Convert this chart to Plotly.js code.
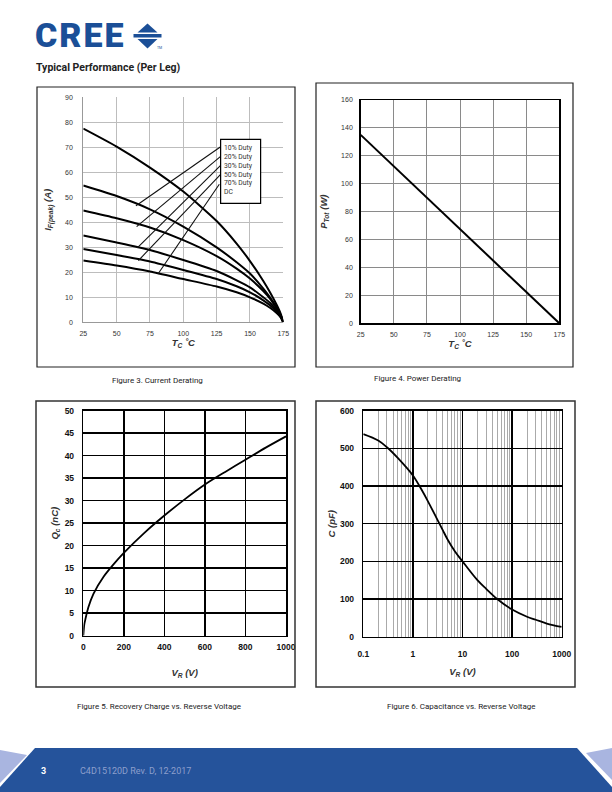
<!DOCTYPE html>
<html><head><meta charset="utf-8">
<script src="https://cdn.plot.ly/plotly-3.0.1.min.js"></script>
<style>
html,body{margin:0;padding:0;background:#fff;}
#wrap{position:relative;width:612px;height:792px;overflow:hidden;background:#fff;}
#chart{position:absolute;left:0;top:0;width:612px;height:792px;}
.ov{position:absolute;pointer-events:none;z-index:5;white-space:nowrap;}
</style></head>
<body>
<div id="wrap">
<div id="chart"></div>
<div class="ov" style="left:35px;top:15px;font-family:Roboto,'Liberation Sans',Arial;font-weight:900;font-size:34px;color:#1b4f97;letter-spacing:2px;">CREE</div>
<svg class="ov" style="left:0;top:0" width="612" height="60">
  <polygon points="147.5,23.5 137.5,32.5 157.5,32.5" fill="#1b4f97"/>
  <rect x="133.5" y="34" width="28" height="3.5" fill="#1b4f97"/>
  <polygon points="137.5,39 157.5,39 147.5,48.5" fill="#1b4f97"/>
  <text x="157" y="49" font-size="3.5" fill="#1b4f97" font-family="Roboto">TM</text>
</svg>
<div class="ov" style="left:36px;top:61px;font-family:Roboto,'Liberation Sans',Arial;font-weight:bold;font-size:10.5px;color:#222;">Typical Performance (Per Leg)</div>
<svg class="ov" style="left:0;top:740px" width="612" height="52">
  <polygon points="0,10 27,15 0,43" fill="#a9b5e0"/>
  <polygon points="612,8 586,13 612,40" fill="#a9b5e0"/>
  <polygon points="35,8 577,8 612,47 612,52 0,52 0,47" fill="#25539b"/>
</svg>
<div class="ov" style="left:41px;top:766px;font-family:Roboto,'Liberation Sans',Arial;font-weight:bold;font-size:9px;color:#fff;">3</div>
<div class="ov" style="left:80px;top:766px;font-family:'Liberation Sans Narrow',Roboto,'Liberation Sans';font-size:9px;color:#8d9fcc;">C4D15120D Rev. D, 12-2017</div>
</div>
<script>
// ---------- Figure 3: Current Derating ----------
const derateTemp = [25, 50, 75, 100, 125, 140, 150, 160, 165, 170, 173, 175];
const duty10 = [77.5, 70.3, 61.9, 52.3, 40.5, 31.5, 24.5, 16.5, 12.0, 7.0, 3.5, 0];
const duty20 = [54.7, 50.5, 45.2, 38.3, 30.0, 24.0, 19.5, 13.5, 10.0, 6.0, 3.0, 0];
const duty30 = [44.7, 41.6, 37.9, 32.9, 26.5, 21.5, 17.5, 12.5, 9.5, 5.5, 2.8, 0];
const duty50 = [34.7, 31.9, 28.9, 24.9, 20.5, 16.8, 14.0, 10.0, 7.8, 4.8, 2.5, 0];
const duty70 = [29.3, 26.9, 24.3, 20.9, 17.3, 14.4, 12.0, 8.8, 6.8, 4.3, 2.2, 0];
const dutyDC = [24.7, 22.7, 20.3, 17.3, 14.3, 12.0, 10.0, 7.5, 5.8, 3.7, 2.0, 0];
const dutyLabels = ['10% Duty', '20% Duty', '30% Duty', '50% Duty', '70% Duty', 'DC'];
const leaderStartT = [64.5, 65.0, 65.5, 66.3, 81.0];
const leaderStartI = [46.6, 38.3, 29.8, 24.7, 19.3];
const leaderEndT = [128, 128, 128, 128, 127];
const leaderEndI = [70.2, 66.4, 62.8, 59.2, 55.2];
const legendBoxT = [128, 158];
const legendBoxI = [47.6, 73.2];

// ---------- Figure 4: Power Derating ----------
const powerTemp = [25, 175];
const powerTot = [135, 0];

// ---------- Figure 5: Recovery Charge ----------
const qcVoltage = [0, 5, 10, 25, 50, 100, 150, 200, 300, 400, 500, 600, 700, 800, 900, 1000];
const qcCharge = [0, 2.5, 3.6, 6.3, 9.3, 13.1, 15.9, 18.4, 22.8, 26.7, 30.3, 33.6, 36.4, 39.1, 41.8, 44.3];

// ---------- Figure 6: Capacitance ----------
const capVoltage = [0.1, 0.2, 0.3, 0.5, 1, 1.5, 2, 3, 4, 5, 7, 10, 20, 30, 50, 100, 200, 300, 500, 1000];
const capValue = [538, 521, 503, 474, 428, 390, 360, 315, 283, 258, 227, 200, 150, 127, 100, 72, 53, 45, 35, 26];
const logTickVals = [0.1, 1, 10, 100, 1000];
const logTickText = ['0.1', '1', '10', '100', '1000'];

const captions = ['Figure 3. Current Derating', 'Figure 4. Power Derating',
  'Figure 5. Recovery Charge vs. Reverse Voltage', 'Figure 6. Capacitance vs. Reverse Voltage'];

const PX = p => p / 612;
const PY = p => 1 - p / 792;

const traces = [];
const dutySeries = [duty10, duty20, duty30, duty50, duty70, dutyDC];
dutySeries.forEach((s, i) => traces.push({
  x: derateTemp, y: s, xaxis: 'x', yaxis: 'y', mode: 'lines', name: dutyLabels[i],
  line: {color: '#000', width: 2, shape: 'spline', smoothing: 0.6}, hoverinfo: 'skip'
}));
leaderStartT.forEach((t, i) => traces.push({
  x: [t, leaderEndT[i]], y: [leaderStartI[i], leaderEndI[i]], xaxis: 'x', yaxis: 'y',
  mode: 'lines', line: {color: '#111', width: 1.1}, hoverinfo: 'skip'
}));
traces.push({x: powerTemp, y: powerTot, xaxis: 'x2', yaxis: 'y2', mode: 'lines',
  line: {color: '#000', width: 2}, hoverinfo: 'skip'});
traces.push({x: qcVoltage, y: qcCharge, xaxis: 'x3', yaxis: 'y3', mode: 'lines',
  line: {color: '#000', width: 1.8, shape: 'spline', smoothing: 0.8}, hoverinfo: 'skip'});
traces.push({x: capVoltage, y: capValue, xaxis: 'x4', yaxis: 'y4', mode: 'lines',
  line: {color: '#000', width: 1.8, shape: 'spline', smoothing: 1}, hoverinfo: 'skip'});

const narrow = "'Liberation Sans Narrow','Arial Narrow','Liberation Sans',Arial";
const arial = "'Liberation Sans',Arial,sans-serif";
const lightTick = {family: narrow, size: 7, color: '#333'};
const boldTick = {family: arial, size: 8.5, color: '#111', weight: 'bold'};
const titleFont = {family: arial, size: 9.5, color: '#333'};
const capFont = {family: "Roboto,'Liberation Sans',Arial", size: 8, color: '#222'};

const layout = {
  width: 612, height: 792, margin: {l: 0, r: 0, t: 0, b: 0},
  paper_bgcolor: '#fff', plot_bgcolor: '#fff', showlegend: false,
  // Figure 3
  xaxis: {domain: [PX(83.3), PX(283.3)], anchor: 'y', range: [25, 175], tick0: 25, dtick: 25,
    showgrid: true, gridcolor: '#bdbdbd', gridwidth: 1, zeroline: false, showline: true, linecolor: '#999',
    ticks: '', tickfont: lightTick, ticklabelstandoff: 4,
    title: {text: '<b><i>T<sub>C</sub> ˚C</i></b>', font: titleFont, standoff: 3}},
  yaxis: {domain: [PY(322.3), PY(97.3)], anchor: 'x', range: [0, 90], dtick: 10,
    showgrid: true, gridcolor: '#bdbdbd', gridwidth: 1, zeroline: false, showline: true, linecolor: '#999',
    ticks: '', tickfont: lightTick, ticklabelstandoff: 8,
    title: {text: '<b><i>I<sub>F(peak)</sub> (A)</i></b>', font: titleFont, standoff: 11}},
  // Figure 4
  xaxis2: {domain: [PX(360.7), PX(559.3)], anchor: 'y2', range: [25, 175], tick0: 25, dtick: 25,
    showgrid: true, gridcolor: '#8a8a8a', gridwidth: 1, zeroline: false, showline: true, mirror: true,
    linecolor: '#000', linewidth: 1.5, ticks: '', tickfont: lightTick, ticklabelstandoff: 4,
    title: {text: '<b><i>T<sub>C</sub> ˚C</i></b>', font: titleFont, standoff: 3}},
  yaxis2: {domain: [PY(323.3), PY(100)], anchor: 'x2', range: [0, 160], dtick: 20,
    showgrid: true, gridcolor: '#8a8a8a', gridwidth: 1, zeroline: false, showline: true, mirror: true,
    linecolor: '#000', linewidth: 1.5, ticks: '', tickfont: lightTick, ticklabelstandoff: 5,
    title: {text: '<b><i>P<sub>Tot</sub> (W)</i></b>', font: titleFont, standoff: 12}},
  // Figure 5
  xaxis3: {domain: [PX(83.3), PX(286)], anchor: 'y3', range: [0, 1000], dtick: 200,
    showgrid: true, gridcolor: '#000', gridwidth: 1.5, zeroline: false, showline: true, mirror: true,
    linecolor: '#000', linewidth: 1.5, ticks: '', tickfont: boldTick, ticklabelstandoff: 3,
    title: {text: '<b><i>V<sub>R</sub> (V)</i></b>', font: titleFont, standoff: 18}},
  yaxis3: {domain: [PY(635.7), PY(410.7)], anchor: 'x3', range: [0, 50], dtick: 5,
    showgrid: true, gridcolor: '#000', gridwidth: 1.5, zeroline: false, showline: true, mirror: true,
    linecolor: '#000', linewidth: 1.5, ticks: '', tickfont: boldTick, ticklabelstandoff: 6,
    title: {text: '<b><i>Q<sub>c</sub> (nC)</i></b>', font: titleFont, standoff: 4}},
  // Figure 6
  xaxis4: {domain: [PX(363.3), PX(561.7)], anchor: 'y4', type: 'log', range: [-1, 3],
    tickvals: logTickVals, ticktext: logTickText,
    showgrid: true, gridcolor: '#000', gridwidth: 1.5, zeroline: false, showline: true, mirror: true,
    linecolor: '#000', linewidth: 1.5, ticks: '', tickfont: boldTick, ticklabelstandoff: 9,
    minor: {dtick: 'D1', showgrid: true, gridcolor: '#aaaaaa', gridwidth: 1, ticks: ''},
    title: {text: '<b><i>V<sub>R</sub> (V)</i></b>', font: titleFont, standoff: 10}},
  yaxis4: {domain: [PY(636.7), PY(410.7)], anchor: 'x4', range: [0, 600], dtick: 100,
    showgrid: true, gridcolor: '#000', gridwidth: 1.5, zeroline: false, showline: true, mirror: true,
    linecolor: '#000', linewidth: 1.5, ticks: '', tickfont: boldTick, ticklabelstandoff: 6,
    title: {text: '<b><i>C (pF)</i></b>', font: titleFont, standoff: 2}},
  shapes: [
    {type: 'rect', xref: 'paper', yref: 'paper', x0: PX(37), x1: PX(295), y0: PY(367), y1: PY(87), line: {color: '#222', width: 1.2}},
    {type: 'rect', xref: 'paper', yref: 'paper', x0: PX(316), x1: PX(573), y0: PY(367), y1: PY(83), line: {color: '#222', width: 1.2}},
    {type: 'rect', xref: 'paper', yref: 'paper', x0: PX(36), x1: PX(295), y0: PY(687), y1: PY(401), line: {color: '#333', width: 1.5}},
    {type: 'rect', xref: 'paper', yref: 'paper', x0: PX(316), x1: PX(575), y0: PY(687), y1: PY(401), line: {color: '#333', width: 1.5}},
    {type: 'rect', xref: 'x', yref: 'y', x0: legendBoxT[0], x1: legendBoxT[1], y0: legendBoxI[0], y1: legendBoxI[1],
      line: {color: '#000', width: 1.2}, fillcolor: '#fff', layer: 'above'}
  ],
  annotations: [
    {xref: 'x', yref: 'y', x: legendBoxT[0] + 1, y: legendBoxI[1] - 1, xanchor: 'left', yanchor: 'top',
      text: dutyLabels.join('<br>'), showarrow: false, align: 'left',
      font: {family: "Roboto,'Liberation Sans',Arial", size: 6.8, color: '#333'}},
    {xref: 'paper', yref: 'paper', x: PX(157), y: PY(380), xanchor: 'center', yanchor: 'middle',
      text: captions[0], showarrow: false, font: capFont},
    {xref: 'paper', yref: 'paper', x: PX(417.5), y: PY(378.5), xanchor: 'center', yanchor: 'middle',
      text: captions[1], showarrow: false, font: capFont},
    {xref: 'paper', yref: 'paper', x: PX(158.7), y: PY(706.7), xanchor: 'center', yanchor: 'middle',
      text: captions[2], showarrow: false, font: capFont},
    {xref: 'paper', yref: 'paper', x: PX(461), y: PY(706.7), xanchor: 'center', yanchor: 'middle',
      text: captions[3], showarrow: false, font: capFont}
  ]
};

Plotly.newPlot('chart', traces, layout, {staticPlot: true, displayModeBar: false});
</script>
</body></html>
